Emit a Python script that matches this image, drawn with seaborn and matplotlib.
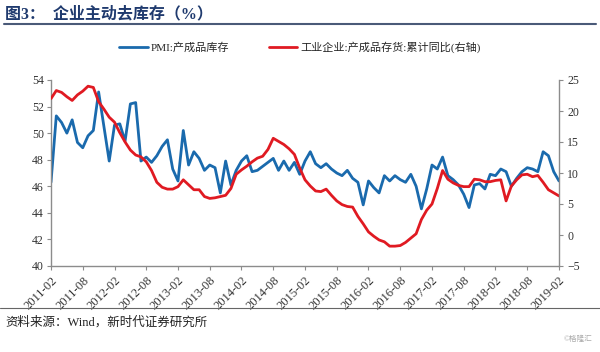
import matplotlib
matplotlib.use("Agg")
import matplotlib.pyplot as plt
import seaborn as sns
import pandas as pd
import numpy as np
from matplotlib.lines import Line2D

sns.set_theme(style="white")
plt.rcParams['font.family'] = ['Liberation Serif', 'Noto Sans CJK SC', 'DejaVu Sans']

# ---- data (2011-02 .. 2019-02, monthly) ----
months = pd.date_range("2011-02-01", periods=97, freq="MS").strftime("%Y-%m").tolist()

pmi_inventory = [
    46.3, 51.3, 50.8, 50.0, 51.0, 49.3, 48.9, 49.8, 50.2, 53.1,
    50.5, 47.9, 50.6, 50.7, 49.4, 52.2, 52.3, 47.9, 48.2, 47.8,
    48.3, 49.0, 49.5, 47.3, 46.4, 50.2, 47.6, 48.6, 48.1, 47.2,
    47.6, 47.4, 45.5, 47.9, 46.1, 47.2, 47.9, 48.3, 47.1, 47.2,
    47.5, 47.8, 48.1, 47.2, 47.9, 47.2, 47.8, 46.9, 47.9, 48.6,
    47.7, 47.4, 47.7, 47.3, 47.0, 46.8, 47.2, 46.6, 46.3, 44.6,
    46.4, 45.9, 45.5, 46.8, 46.4, 46.8, 46.5, 46.3, 46.9, 46.0,
    44.3, 45.8, 47.6, 47.3, 48.2, 46.8, 46.5, 46.1, 45.4, 44.4,
    46.1, 46.2, 45.8, 46.9, 46.8, 47.3, 47.1, 46.0, 46.6, 47.1,
    47.4, 47.3, 47.1, 48.6, 48.3, 47.1, 46.4,
]

ind_inventory_yoy = [
    22.0, 23.3, 23.0, 22.3, 21.7, 22.6, 23.2, 24.0, 23.8, 21.5,
    20.3, 19.0, 18.2, 16.5, 15.0, 13.7, 12.9, 12.6, 11.8, 10.4,
    8.5, 7.7, 7.4, 7.4, 7.8, 8.9, 8.1, 7.3, 7.3, 6.2,
    5.9, 6.0, 6.2, 6.4, 7.5, 9.8, 10.5, 11.1, 11.8, 12.4,
    12.7, 13.8, 15.6, 15.1, 14.6, 13.9, 13.0, 10.8, 8.9, 7.9,
    7.1, 7.0, 7.4, 6.4, 5.5, 4.9, 4.6, 4.5, 3.0, 1.8,
    0.5, -0.2, -0.8, -1.1, -1.8, -1.8, -1.7, -1.2, -0.5, 0.2,
    2.5, 4.0, 5.0, 7.5, 10.4, 9.0, 8.4, 8.0, 7.8, 7.8,
    9.0, 8.9, 8.6, 8.6, 8.8, 8.9, 5.5, 7.9, 8.9, 9.7,
    9.8, 9.4, 9.6, 8.5, 7.3, 6.8, 6.3,
]

label_pmi = "PMI:产成品库存"
label_ind = "工业企业:产成品存货:累计同比(右轴)"
title_text = "图3：  企业主动去库存（%）"
source_text = "资料来源：Wind，新时代证券研究所"
watermark = "©格隆汇"

df = pd.DataFrame({"idx": np.arange(len(months)), "month": months,
                   "pmi": pmi_inventory, "ind": ind_inventory_yoy})

BLUE = "#1a6aad"
RED = "#e01a22"
GRAY = "#8c8c8c"

fig = plt.figure(figsize=(6.0, 3.52), dpi=100)
W, H = 600, 352
ax = fig.add_axes([51 / W, 1 - 266 / H, (559 - 51) / W, (266 - 80) / H])
ax2 = ax.twinx()

sns.lineplot(data=df, x="idx", y="pmi", ax=ax, color=BLUE, linewidth=2.0)
sns.lineplot(data=df, x="idx", y="ind", ax=ax2, color=RED, linewidth=2.0)

ax.set_xlim(0, len(months) - 1)
ax.set_ylim(40, 54)
ax.set_yticks(np.arange(40, 55, 2))
ax2.set_ylim(-5, 25)
ax2.set_yticks(np.arange(-5, 26, 5))

tick_pos = list(range(0, len(months), 6))
ax.set_xticks(tick_pos)
ax.set_xticklabels([months[i] for i in tick_pos], rotation=45, ha="right",
                   rotation_mode="anchor")

for a in (ax, ax2):
    a.set_xlabel("")
    a.set_ylabel("")
    a.grid(False)
    a.spines["top"].set_visible(False)
    for s in ("left", "right", "bottom"):
        a.spines[s].set_color(GRAY)
        a.spines[s].set_linewidth(1.0)
ax.spines["right"].set_visible(False)
ax2.spines["left"].set_visible(False)
ax2.spines["bottom"].set_visible(False)

ax.tick_params(axis="both", which="both", direction="out", length=3, width=0.8,
               color=GRAY, labelsize=8.5, labelcolor="#333333", pad=2)
ax.tick_params(axis="x", labelsize=9, pad=3)
ax2.tick_params(axis="y", direction="out", length=3, width=0.8, color=GRAY,
                labelsize=8.5, labelcolor="#333333", pad=3)
ax.tick_params(left=True, bottom=True)
ax2.tick_params(right=True)

handles = [Line2D([], [], color=BLUE, lw=2.0), Line2D([], [], color=RED, lw=2.0)]
fig.legend(handles, [label_pmi, label_ind], loc="center",
           bbox_to_anchor=(0.5, 1 - 47 / H), ncol=2, frameon=False,
           fontsize=8, handlelength=2.6, columnspacing=3.5, handletextpad=0.3)

fig.text(5 / W, 1 - 14 / H, title_text, fontsize=11.5, fontweight="bold",
         color="#1f3a6e", va="center", ha="left")
fig.add_artist(Line2D([4 / W, 596 / W], [1 - 24 / H, 1 - 24 / H],
                      color="#4a5a78", lw=1.5, transform=fig.transFigure))
fig.add_artist(Line2D([0, 1], [1 - 308 / H, 1 - 308 / H],
                      color="#666666", lw=0.8, transform=fig.transFigure))
fig.text(5 / W, 1 - 322 / H, source_text, fontsize=9, color="#222222",
         va="center", ha="left")
fig.text(592 / W, 1 - 339 / H, watermark, fontsize=5.5, color="#aaaaaa",
         va="center", ha="right")

fig.savefig("out.png", dpi=100)
